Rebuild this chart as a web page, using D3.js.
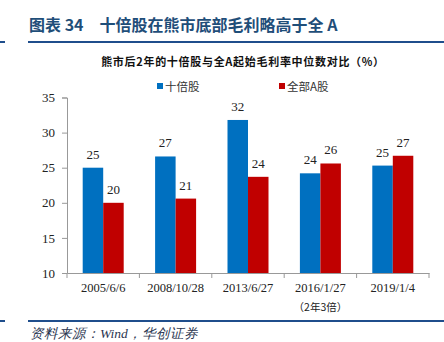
<!DOCTYPE html>
<html><head><meta charset="utf-8">
<script src="https://cdn.jsdelivr.net/npm/d3@7"></script>
<style>body{margin:0;background:#fff}svg{display:block}</style>
</head><body>
<script>
const categories = ["2005/6/6","2008/10/28","2013/6/27","2016/1/27","2019/1/4"];
const tenBagger = [25.0, 26.6, 31.8, 24.2, 25.3];
const allA = [20.0, 20.6, 23.7, 25.6, 26.7];
const tenBaggerLabels = ["25","27","32","24","25"];
const allALabels = ["20","21","24","26","27"];
const seriesNames = ["十倍股","全部A股"];
const yTicks = [10,15,20,25,30,35];

const W=444,H=342;
const svg=d3.select("body").append("svg").attr("width",W).attr("height",H);
const navy="#1F4E8C";
const cjk='"Noto Sans CJK SC", sans-serif';
const serif='"Liberation Serif","Times New Roman",serif';

// header
svg.append("text").attr("x",29).attr("y",31).attr("fill","#1F4E79")
  .style("font-family",cjk).style("font-weight","bold").style("font-size","16px")
  .text("图表 34\u2003十倍股在熊市底部毛利略高于全 A");
svg.append("line").attr("x1",0).attr("x2",5).attr("y1",42).attr("y2",42).attr("stroke",navy).attr("stroke-width",2);
svg.append("line").attr("x1",28).attr("x2",444).attr("y1",42).attr("y2",42).attr("stroke",navy).attr("stroke-width",2);
svg.append("text").attr("x",243).attr("y",66).attr("text-anchor","middle").attr("fill","#111")
  .style("font-family",cjk).style("font-weight","bold").style("font-size","11px").style("letter-spacing","0.7px")
  .text("熊市后2年的十倍股与全A起始毛利率中位数对比（%）");

// chart
const x0=d3.scaleBand().domain(categories).range([67,429]).paddingInner(0).paddingOuter(0);
const x1=d3.scaleBand().domain([0,1]).range([0,41]);
const y=d3.scaleLinear().domain([10,35]).range([273,97.5]);
const colors=["#0070C0","#C00000"];

const yAxis=svg.append("g").attr("transform","translate(67,0)")
  .call(d3.axisLeft(y).tickValues(yTicks).tickSize(5).tickPadding(7));
yAxis.selectAll("text").style("font-family",serif).style("font-size","13px").attr("fill","#222");
yAxis.selectAll("line,path").attr("stroke","#999");

const xAxis=svg.append("g").attr("transform","translate(0,273)")
  .call(d3.axisBottom(x0).tickSize(0).tickPadding(10));
xAxis.selectAll("text").style("font-family",serif).style("font-size","12.5px").attr("fill","#222");
xAxis.select("path").attr("stroke","#999");
// category boundary ticks
const bounds=categories.map(c=>x0(c)).concat([x0.range()[1]]);
svg.append("g").selectAll("line").data(bounds).join("line")
  .attr("x1",d=>d).attr("x2",d=>d).attr("y1",273).attr("y2",278).attr("stroke","#999");

svg.append("text").attr("x",x0("2016/1/27")+x0.bandwidth()/2).attr("y",311).attr("text-anchor","middle")
  .style("font-family",cjk).style("font-size","10.5px").attr("fill","#222").text("（2年3倍）");

const series=[tenBagger,allA], labels=[tenBaggerLabels,allALabels];
series.forEach((vals,si)=>{
  const g=svg.append("g");
  g.selectAll("rect").data(vals).join("rect")
    .attr("x",(d,i)=>x0(categories[i])+x0.bandwidth()/2-20.5+x1(si))
    .attr("width",x1.bandwidth())
    .attr("y",d=>y(d)).attr("height",d=>y(10)-y(d))
    .attr("fill",colors[si]);
  g.selectAll("text").data(vals).join("text")
    .attr("x",(d,i)=>x0(categories[i])+x0.bandwidth()/2-20.5+x1(si)+x1.bandwidth()/2)
    .attr("y",d=>y(d)-9).attr("text-anchor","middle")
    .style("font-family",serif).style("font-size","13px").attr("fill","#222")
    .text((d,i)=>labels[si][i]);
});

// legend
const lx=[157,279];
seriesNames.forEach((n,i)=>{
  svg.append("rect").attr("x",lx[i]).attr("y",83).attr("width",6).attr("height",6).attr("fill",colors[i]);
  svg.append("text").attr("x",lx[i]+8).attr("y",90.5).style("font-family",cjk).style("font-size","11.5px")
    .attr("fill","#333").text(n);
});

// footer
svg.append("line").attr("x1",0).attr("x2",5).attr("y1",321).attr("y2",321).attr("stroke",navy).attr("stroke-width",2);
svg.append("line").attr("x1",28).attr("x2",444).attr("y1",321).attr("y2",321).attr("stroke",navy).attr("stroke-width",2);
svg.append("text").attr("x",30).attr("y",338).attr("fill","#2a3550")
  .style("font-family",serif).style("font-style","italic").style("font-size","13.5px")
  .text("资料来源：Wind，华创证券");
</script>
</body></html>
